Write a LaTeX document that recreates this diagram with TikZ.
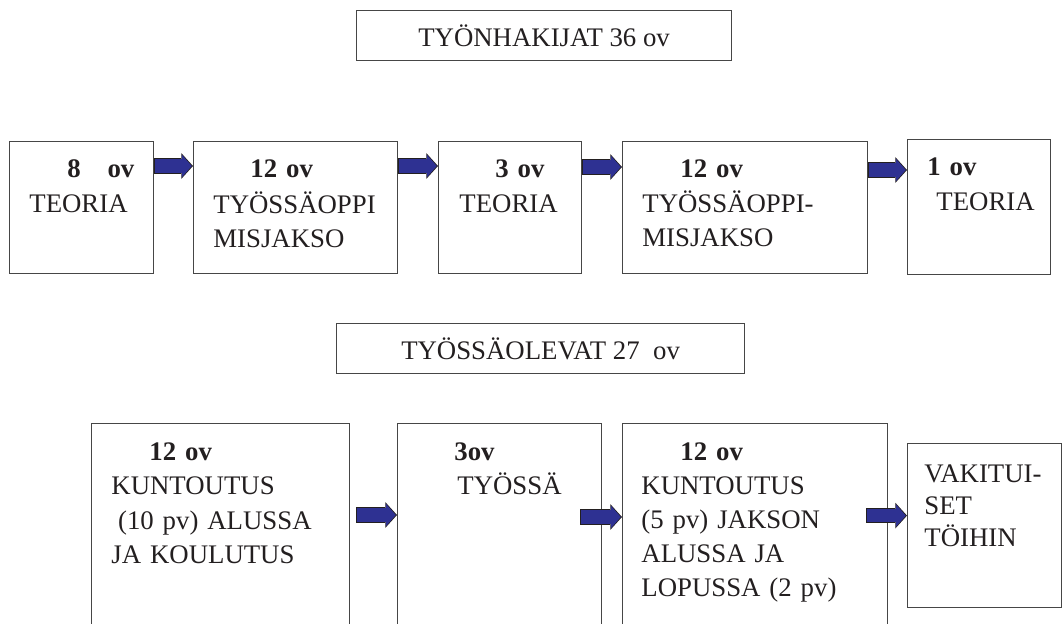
\documentclass[tikz,border=0pt]{standalone}
\usepackage{fontspec}
\setmainfont{Liberation Serif}
\usepackage{tikz}
\usetikzlibrary{arrows.meta}
\definecolor{ink}{RGB}{35, 31, 32}
\definecolor{navy}{RGB}{46, 49, 146}
\definecolor{rim}{RGB}{70, 70, 70}

\begin{document}
\begin{tikzpicture}[x=0.5pt, y=-0.5pt,
  every node/.style={font=\fontsize{13.4}{17}\selectfont, text=ink},
  box/.style={draw=rim, line width=0.6pt, anchor=north west, inner sep=0pt},
  txt/.style={anchor=base west, inner sep=0pt, text width=140pt, align=left},
  flow/.style={draw=navy, line width=6.6pt,
    -{Triangle[length=5pt, width=11.4pt, line width=0pt]},
    shorten >=0.6pt, shorten <=0.5pt,
    preaction={draw=ink, line width=7.8pt,
      -{Triangle[length=5.8pt, width=12.8pt, line width=0pt]},
      shorten >=0pt, shorten <=0pt}}]

  \useasboundingbox (0, 0) rectangle (1062, 623);

  % top group
  \node[box, minimum width=187.5pt, minimum height=25pt] (h1) at (356, 10) {TYÖNHAKIJAT 36 ov};

  \node[box, minimum width=72pt, minimum height=66pt] (b1) at (9, 141) {};
  \node[box, minimum width=102pt, minimum height=66pt] (b2) at (193, 141) {};
  \node[box, minimum width=71.5pt, minimum height=66pt] (b3) at (438, 141) {};
  \node[box, minimum width=122.5pt, minimum height=66pt] (b4) at (622, 141) {};
  \node[box, minimum width=71.5pt, minimum height=67.5pt] (b5) at (907, 139) {};

  \node[txt] (l1) at (29, 177) {\hspace*{19pt}\textbf{8\hspace{1em}ov}\\[0.5pt]TEORIA};
  \node[txt] (l2) at (213, 177) {\hspace*{18.5pt}\textbf{12 ov}\\[1pt]TYÖSSÄOPPI\\MISJAKSO};
  \node[txt] (l3) at (459, 177) {\hspace*{18pt}\textbf{3 ov}\\[0.5pt]TEORIA};
  \node[txt] (l4) at (642, 177) {\hspace*{19pt}\textbf{12 ov}\\[0.5pt]TYÖSSÄOPPI-\\MISJAKSO};
  \node[txt] (l5) at (927, 175) {\textbf{1 ov}\\[0.5pt]\hspace*{4.5pt}TEORIA};

  \draw[flow] ([yshift=-12.5pt]b1.north east) -- ([yshift=-12.5pt]b2.north west);
  \draw[flow] ([yshift=-12.5pt]b2.north east) -- ([yshift=-12.5pt]b3.north west);
  \draw[flow] ([yshift=-13pt]b3.north east) -- ([yshift=-13pt]b4.north west);
  \draw[flow] ([yshift=-14.5pt]b4.north east) -- ([yshift=-15.5pt]b5.north west);

  % bottom group
  \node[box, minimum width=204pt, minimum height=25pt] (h2) at (336, 323) {TYÖSSÄOLEVAT 27\ \ ov};

  \node[box, minimum width=129pt, minimum height=108.5pt] (bA) at (91, 423) {};
  \node[box, minimum width=102pt, minimum height=108.5pt] (bB) at (397, 423) {};
  \node[box, minimum width=132.5pt, minimum height=108.5pt] (bC) at (622, 423) {};
  \node[box, minimum width=77pt, minimum height=82pt] (bD) at (907, 443) {};

  \node[txt] (lA) at (111, 460) {\hspace*{19pt}\textbf{12 ov}\\KUNTOUTUS\\[0.5pt]\hspace*{0.25em}(10 pv) ALUSSA\\JA KOULUTUS};
  \node[txt] (lB) at (454, 460) {\textbf{3ov}\\\hspace*{1.5pt}TYÖSSÄ};
  \node[txt] (lC) at (641, 460) {\hspace*{19.5pt}\textbf{12 ov}\\KUNTOUTUS\\(5 pv) JAKSON\\ALUSSA JA\\LOPUSSA (2 pv)};
  \node[txt, font=\fontsize{13.4}{16}\selectfont] (lD) at (924, 482) {VAKITUI-\\SET\\TÖIHIN};

  % these arrows start over the box on their left
  \draw[flow] ([shift={(-20.5pt,-46pt)}]bB.north west) -- ([yshift=-46pt]bB.north west);
  \draw[flow] ([shift={(-21pt,-47pt)}]bC.north west) -- ([yshift=-47pt]bC.north west);
  \draw[flow] ([shift={(-20.5pt,5pt)}]bD.west) -- ([yshift=5pt]bD.west);

\end{tikzpicture}
\end{document}
